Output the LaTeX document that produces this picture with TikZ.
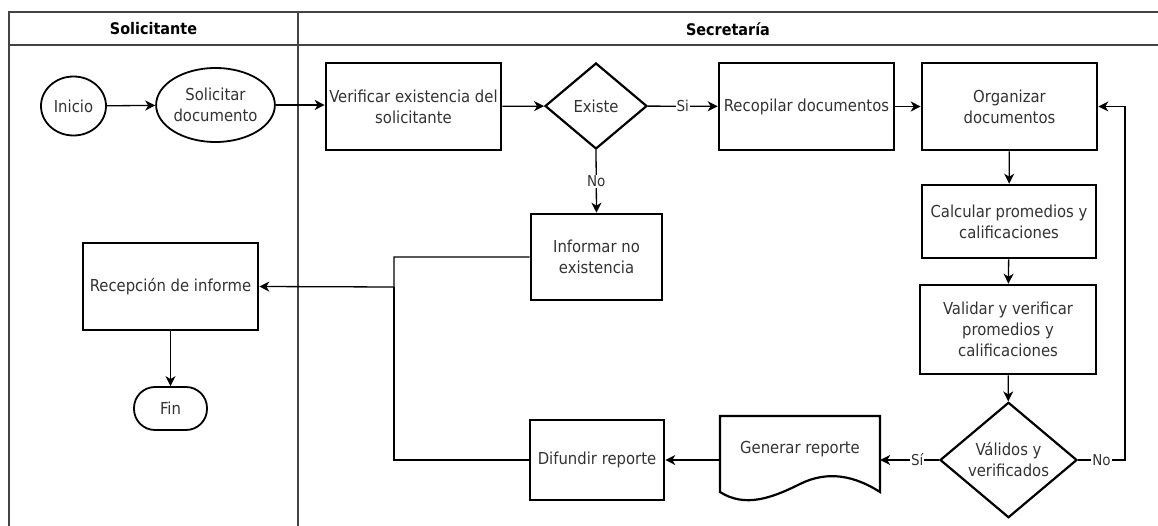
\documentclass[tikz,border=0pt]{standalone}
\usepackage{fontspec}
\setmainfont{DejaVu Sans Condensed}
\usetikzlibrary{shapes.geometric,arrows.meta}
\definecolor{txt}{HTML}{333333}
\definecolor{lane}{HTML}{444444}
\tikzset{
  every node/.style={font=\fontsize{16.5}{21}\selectfont, text=txt},
  proc/.style={draw=black, line width=2.6pt, rectangle, inner sep=0pt, align=center},
  term/.style={draw=black, line width=1.8pt, ellipse, inner sep=0pt, align=center},
  decide/.style={draw=black, line width=2.2pt, diamond, inner sep=0pt, align=center},
  flow/.style={draw=black, line width=1.3pt, -{Stealth[length=10pt,width=10pt,inset=3pt]}},
  link/.style={draw=black, line width=1.3pt},
  tag/.style={fill=white, inner sep=1pt, font=\fontsize{15}{17}\selectfont},
  lanerule/.style={draw=lane, line width=1.6pt},
  head/.style={font=\bfseries\fontsize{16}{18}\selectfont, text=black}
}
\begin{document}
\begin{tikzpicture}[x=1pt,y=-1pt]
\useasboundingbox (0,0) rectangle (1158,526);

% swimlane frame
\draw[lanerule] (9,526) -- (9,12) -- (1158,12);
\draw[lanerule] (9,45) -- (1158,45);
\draw[lanerule] (298,12) -- (298,526);
\node[head] (hsol) at (153.5,29) {Solicitante};
\node[head] (hsec) at (728,29) {Secretaría};

% Solicitante lane
\node[term, minimum width=65pt, minimum height=59pt] (inicio) at (73.5,106) {Inicio};
\node[term, minimum width=117pt, minimum height=74pt] (solicitar) at (215.5,105) {Solicitar\\documento};
\node[proc, minimum width=175pt, minimum height=87pt] (recepcion) at (170.5,286.5) {Recepción de informe};
\node[draw=black, line width=1.8pt, rectangle, rounded corners=21pt, minimum width=73pt, minimum height=43pt, inner sep=0pt] (fin) at (170.5,408.5) {Fin};

% Secretaria lane
\node[proc, minimum width=175pt, minimum height=87pt] (verificar) at (413.5,106.5) {Verificar existencia del\\solicitante};
\node[decide, minimum width=102pt, minimum height=86pt] (existe) at (596,106) {Existe};
\node[proc, minimum width=175pt, minimum height=87pt] (recopilar) at (806.5,106.5) {Recopilar documentos};
\node[proc, minimum width=175pt, minimum height=87pt] (organizar) at (1009.5,106.5) {Organizar\\documentos};
\node[proc, minimum width=174pt, minimum height=73pt] (calcular) at (1009,221.5) {Calcular promedios y\\calificaciones};
\node[proc, minimum width=176pt, minimum height=89pt] (validar) at (1008,329.5) {Validar y verificar\\promedios y\\calificaciones};
\node[decide, minimum width=137pt, minimum height=86pt] (valid) at (1008.5,460) {Válidos y\\verificados};
\node[proc, minimum width=131pt, minimum height=86pt] (informar) at (596.5,257) {Informar no\\existencia};
\node[proc, minimum width=134pt, minimum height=80pt] (difundir) at (597,460) {Difundir reporte};

% document shape for the report
\node[minimum width=160pt, minimum height=88pt, inner sep=0pt] (generar) at (800,460) {};
\draw[black, line width=2.2pt, line join=miter]
  (720,492) -- (720,416) -- (880,416) -- (880,492)
  .. controls (855,476) and (828,470) .. (800,484)
  .. controls (772,498) and (745,508) .. cycle;
\node (gentext) at (800,449) {Generar reporte};

\coordinate (j) at (394,287);
\coordinate (back) at (1125,460);

% connectors
\draw[flow] (inicio) -- (solicitar);
\draw[flow] (solicitar.east) -- (solicitar.east -| verificar.west);
\draw[flow] (verificar) -- (existe);
\draw[flow] (existe) -- node[tag] {Si} (recopilar);
\draw[flow] (recopilar) -- (organizar);
\draw[flow] (organizar) -- (calcular);
\draw[flow] (calcular) -- (validar);
\draw[flow] (validar) -- (valid);
\draw[flow] (valid.east) -- node[tag] {No} (back) |- (organizar.east);
\draw[flow] (valid.west) -- node[tag, pos=0.37] {Sí} (generar.east);
\draw[flow] (generar.west) -- (difundir.east);
\draw[flow] (existe.south) -- node[tag] {No} (informar.north);
\draw[flow] (informar.west) -| (j) -- (recepcion.east);
\draw[link] (difundir.west) -| (j);
\draw[flow] (recepcion) -- (fin);
\end{tikzpicture}
\end{document}
